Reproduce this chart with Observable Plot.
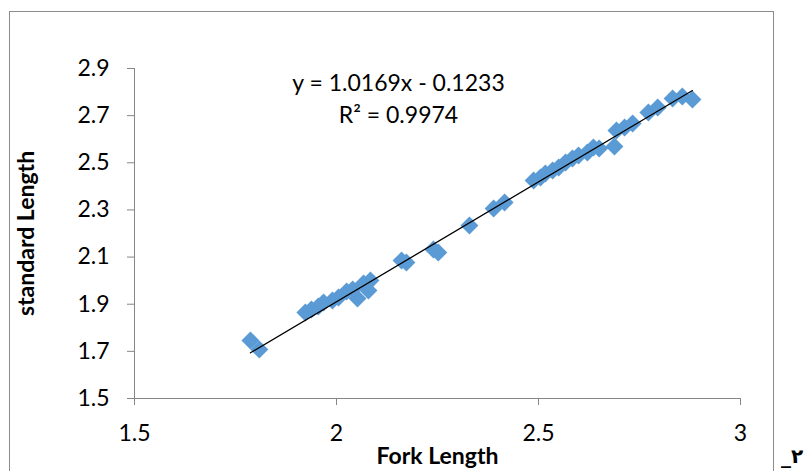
<!DOCTYPE html>
<html>
<head>
<meta charset="utf-8">
<script src="https://cdn.jsdelivr.net/npm/d3@7"></script>
<script src="https://cdn.jsdelivr.net/npm/@observablehq/plot@0.6"></script>
<style>
  html, body { margin: 0; padding: 0; background: #fff; }
  #wrap { position: relative; width: 807px; height: 471px; overflow: hidden; background: #fff; }
  #frame { position: absolute; left: 9px; top: 11px; width: 765px; height: 480px; border: 1px solid #8c8c8c; box-sizing: border-box; }
  #chart { position: absolute; left: 0; top: 0; }
  #corner { position: absolute; left: 781px; top: 444px; font: bold 20px "DejaVu Sans", sans-serif; color: #000; white-space: nowrap; direction: ltr; unicode-bidi: bidi-override; }
</style>
</head>
<body>
<div id="wrap">
  <div id="frame"></div>
  <div id="chart"></div>
  <div id="corner">_۲</div>
</div>
<script>
// Data
const forkLength = [1.787, 1.809, 1.923, 1.938, 1.955, 1.968, 1.990, 2.005, 2.025, 2.040, 2.052, 2.067, 2.079, 2.084,
  2.161, 2.173, 2.240, 2.252, 2.329, 2.389, 2.416,
  2.488, 2.505, 2.517, 2.535, 2.550, 2.567, 2.584, 2.599, 2.621, 2.636, 2.650,
  2.688, 2.693, 2.713, 2.733, 2.772, 2.795, 2.832, 2.856, 2.881];
const standardLength = [1.746, 1.708, 1.865, 1.878, 1.890, 1.907, 1.916, 1.929, 1.954, 1.962, 1.924, 1.988, 1.958, 2.001,
  2.085, 2.077, 2.132, 2.119, 2.234, 2.306, 2.332,
  2.425, 2.438, 2.455, 2.467, 2.480, 2.501, 2.518, 2.531, 2.544, 2.565, 2.561,
  2.569, 2.637, 2.650, 2.667, 2.713, 2.735, 2.773, 2.781, 2.769];
const xTicks = [1.5, 2, 2.5, 3];
const yTicks = [1.5, 1.7, 1.9, 2.1, 2.3, 2.5, 2.7, 2.9];
const slope = 1.0169;
const intercept = -0.1233;
const rSquared = 0.9974;
const xLabel = "Fork Length";
const yLabel = "standard Length";

const points = forkLength.map((x, i) => ({x, y: standardLength[i]}));
const xMin = d3.min(forkLength), xMax = d3.max(forkLength);
const trend = [xMin, xMax].map(x => ({x, y: slope * x + intercept}));
const eqText = `y = ${slope}x - ${Math.abs(intercept)}\nR² = ${rSquared}`;

const diamond = {
  draw(context, size) {
    const h = Math.sqrt(size / Math.PI);
    context.moveTo(0, -h);
    context.lineTo(h, 0);
    context.lineTo(0, h);
    context.lineTo(-h, 0);
    context.closePath();
  }
};

const font = "Lato, 'Open Sans', sans-serif";

const chart = Plot.plot({
  width: 807,
  height: 471,
  marginLeft: 134,
  marginRight: 67,
  marginTop: 68,
  marginBottom: 73,
  style: { fontFamily: font, fontSize: "23px", color: "#000", background: "transparent", overflow: "visible" },
  x: { domain: [1.5, 3] },
  y: { domain: [1.5, 2.9] },
  marks: [
    Plot.ruleX([1.5], { stroke: "#868686", strokeWidth: 1 }),
    Plot.ruleY([1.5], { stroke: "#868686", strokeWidth: 1 }),
    Plot.axisX({ ticks: xTicks, tickSize: 7, tickPadding: 19, stroke: "#868686", fill: "#000", label: null, tickFormat: d => String(d) }),
    Plot.axisY({ ticks: yTicks, tickSize: 7, tickPadding: 18, stroke: "#868686", fill: "#000", label: null, tickFormat: d => d.toFixed(1) }),
    Plot.dot(points, { x: "x", y: "y", symbol: diamond, r: 9, fill: "#5B9BD5", stroke: "none" }),
    Plot.line(trend, { x: "x", y: "y", stroke: "#000", strokeWidth: 1.3 }),
    Plot.text([eqText], { frameAnchor: "top", dx: -39, dy: 28, text: d => d, fontSize: 23, lineHeight: 1.4, textAnchor: "middle", fill: "#000", lineAnchor: "middle" }),
    Plot.text([xLabel], { frameAnchor: "bottom", dy: 58, text: d => d, fontSize: 23, fontWeight: "bold", fill: "#000", textAnchor: "middle", lineAnchor: "middle" }),
    Plot.text([yLabel], { frameAnchor: "left", dx: -108, rotate: -90, text: d => d, fontSize: 23, fontWeight: "bold", fill: "#000", textAnchor: "middle", lineAnchor: "middle" })
  ]
});
document.getElementById("chart").appendChild(chart);
</script>
</body>
</html>
